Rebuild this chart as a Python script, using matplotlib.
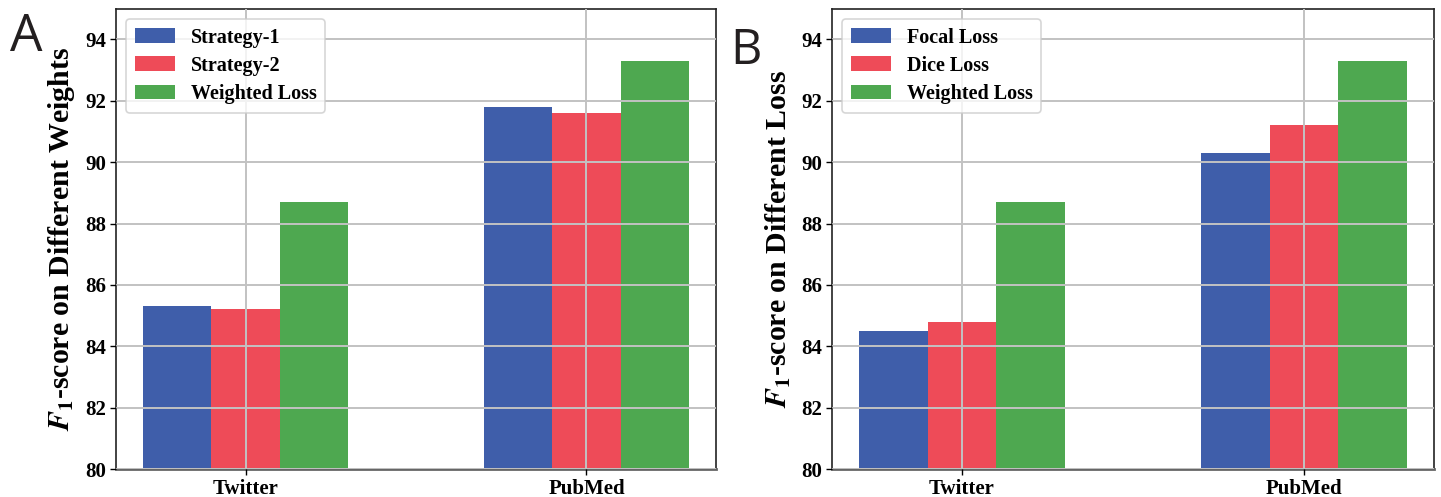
import matplotlib
matplotlib.use("Agg")
import matplotlib.pyplot as plt
import numpy as np

datasets = ["Twitter", "PubMed"]

# panel A: different weights
weights_labels = ["Strategy-1", "Strategy-2", "Weighted Loss"]
weights_scores = [
    [85.3, 91.8],   # Strategy-1
    [85.2, 91.6],   # Strategy-2
    [88.7, 93.3],   # Weighted Loss
]

# panel B: different loss
loss_labels = ["Focal Loss", "Dice Loss", "Weighted Loss"]
loss_scores = [
    [84.5, 90.3],   # Focal Loss
    [84.8, 91.2],   # Dice Loss
    [88.7, 93.3],   # Weighted Loss
]

colors = ["#3f5eaa", "#ee4b58", "#4ea850"]
yticks = [80, 82, 84, 86, 88, 90, 92, 94]

plt.rcParams["font.family"] = "Liberation Serif"
plt.rcParams["font.weight"] = "bold"
plt.rcParams["mathtext.fontset"] = "stix"

fig = plt.figure(figsize=(14.41, 4.97), dpi=100)
ax1 = fig.add_axes([0.0805, 0.0563, 0.4164, 0.9262])
ax2 = fig.add_axes([0.5774, 0.0563, 0.4178, 0.9262])


def draw_panel(ax, labels, scores, ylabel):
    x = np.arange(len(datasets))
    width = 0.2
    for i, (lab, vals) in enumerate(zip(labels, scores)):
        ax.bar(x + (i - 1) * width, vals, width, color=colors[i], label=lab, zorder=1)
    ax.set_ylim(80, 95)
    ax.set_xlim(-0.38, 1.38)
    ax.set_yticks(yticks)
    ax.set_xticks(x)
    ax.set_xticklabels(datasets, fontsize=15, fontweight="bold")
    ax.tick_params(axis="y", labelsize=15, length=4, width=1, pad=3)
    ax.tick_params(axis="x", length=4, width=1, pad=3)
    for lbl in ax.get_yticklabels():
        lbl.set_fontweight("bold")
    ax.grid(True, color="#c2c2c2", linewidth=1.4, zorder=2)
    ax.set_axisbelow(False)
    for side in ["left", "top", "right"]:
        ax.spines[side].set_color("#222222")
        ax.spines[side].set_linewidth(1.2)
    ax.spines["bottom"].set_color("#666666")
    ax.spines["bottom"].set_linewidth(2)
    ax.set_ylabel(ylabel, fontsize=21.5, fontweight="bold", labelpad=6)
    leg = ax.legend(loc="upper left", fontsize=14.5, frameon=True, handlelength=2.0,
                    handleheight=0.75, borderpad=0.45, labelspacing=0.4,
                    handletextpad=0.75, borderaxespad=0.5)
    leg.get_frame().set_edgecolor("#cccccc")
    leg.get_frame().set_linewidth(1.2)
    leg.get_frame().set_alpha(0.8)
    for t in leg.get_texts():
        t.set_fontweight("bold")


draw_panel(ax1, weights_labels, weights_scores, r"$F_1$-score on Different Weights")
draw_panel(ax2, loss_labels, loss_scores, r"$F_1$-score on Different Loss")

fig.text(0.007, 0.898, "A", fontsize=37, family="Open Sans", fontweight="normal", color="#231f20")
fig.text(0.507, 0.872, "B", fontsize=35, family="Open Sans", fontweight="normal", color="#231f20")

fig.savefig("out.png", dpi=100)
